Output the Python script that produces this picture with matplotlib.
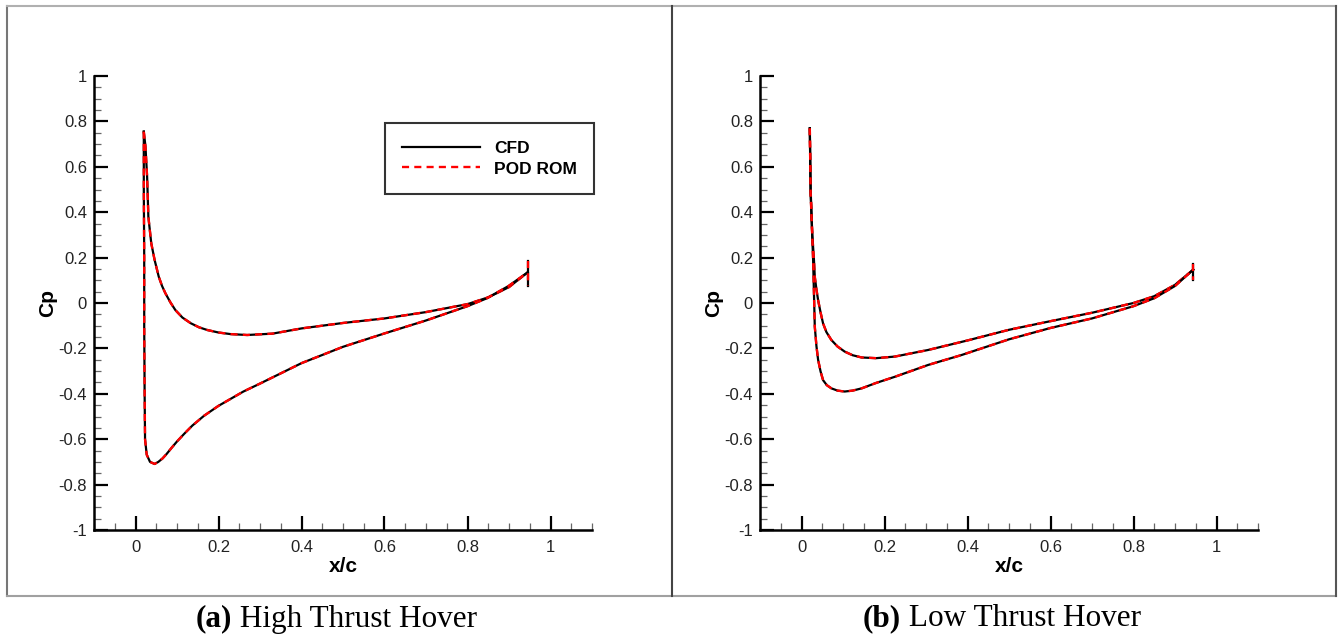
import matplotlib.pyplot as plt
from matplotlib.lines import Line2D
from matplotlib.ticker import MultipleLocator

# ---- High thrust hover: Cp along upper / lower branches (LE -> TE) ----
a_upper_x = [0.020, 0.024, 0.028, 0.031, 0.038, 0.046, 0.056, 0.064, 0.072, 0.084, 0.096,
             0.113, 0.133, 0.153, 0.173, 0.2, 0.229, 0.269, 0.33, 0.4, 0.5, 0.6, 0.7, 0.8,
             0.85, 0.9, 0.945]
a_upper_cp = [0.755, 0.69, 0.556, 0.38, 0.263, 0.19, 0.116, 0.075, 0.043, 0.003, -0.031,
              -0.064, -0.089, -0.107, -0.119, -0.13, -0.137, -0.141, -0.135, -0.112, -0.088,
              -0.068, -0.04, -0.005, 0.025, 0.07, 0.135]
a_lower_x = [0.020, 0.020, 0.021, 0.021, 0.022, 0.023, 0.027, 0.035, 0.046, 0.055, 0.065,
             0.075, 0.087, 0.1, 0.118, 0.137, 0.165, 0.2, 0.26, 0.3, 0.4, 0.5, 0.6, 0.7, 0.8,
             0.847, 0.899, 0.945]
a_lower_cp = [0.755, 0.5, 0.2, -0.1, -0.4, -0.6, -0.668, -0.70, -0.709, -0.70, -0.685,
              -0.665, -0.638, -0.61, -0.575, -0.54, -0.497, -0.453, -0.39, -0.355, -0.265,
              -0.193, -0.134, -0.077, -0.014, 0.021, 0.075, 0.135]
a_te_x = [0.945, 0.945]
a_te_cp = [0.185, 0.075]

# ---- Low thrust hover ----
b_upper_x = [0.020, 0.022, 0.026, 0.030, 0.032, 0.036, 0.040, 0.046, 0.052, 0.060, 0.072,
             0.087, 0.104, 0.123, 0.145, 0.18, 0.225, 0.305, 0.4, 0.5, 0.6, 0.7, 0.8, 0.85,
             0.9, 0.944]
b_upper_cp = [0.77, 0.5, 0.3, 0.19, 0.116, 0.06, 0.013, -0.042, -0.09, -0.128, -0.163,
              -0.192, -0.214, -0.23, -0.24, -0.243, -0.236, -0.207, -0.165, -0.118, -0.08,
              -0.043, 0.0, 0.03, 0.08, 0.147]
b_lower_x = [0.020, 0.022, 0.028, 0.032, 0.036, 0.040, 0.046, 0.052, 0.061, 0.072, 0.087,
             0.104, 0.123, 0.145, 0.18, 0.225, 0.305, 0.386, 0.5, 0.6, 0.7, 0.8, 0.85, 0.9,
             0.944]
b_lower_cp = [0.77, 0.483, 0.19, -0.104, -0.19, -0.25, -0.302, -0.34, -0.362, -0.376,
              -0.386, -0.39, -0.386, -0.376, -0.352, -0.325, -0.273, -0.229, -0.16, -0.11,
              -0.068, -0.014, 0.021, 0.075, 0.147]
b_te_x = [0.944, 0.944]
b_te_cp = [0.174, 0.102]

x_ticks = [0, 0.2, 0.4, 0.6, 0.8, 1]
x_ticklabels = ['0', '0.2', '0.4', '0.6', '0.8', '1']
y_ticks = [-1, -0.8, -0.6, -0.4, -0.2, 0, 0.2, 0.4, 0.6, 0.8, 1]
y_ticklabels = ['-1', '-0.8', '-0.6', '-0.4', '-0.2', '0', '0.2', '0.4', '0.6', '0.8', '1']
captions = [("(a)", " High Thrust Hover"), ("(b)", " Low Thrust Hover")]

plt.rcParams['font.family'] = ['Liberation Sans', 'DejaVu Sans']

fig = plt.figure(figsize=(13.38, 6.37), dpi=100)

W, H = 1338, 637


def fx(px):
    return px / W


def fy(py):
    return 1 - py / H


# panel frames
frame_lines = [
    ((7, 7), (6, 596), '#777777'),
    ((7, 1336), (6, 6), '#b0b0b0'),
    ((7, 1336), (596, 596), '#a0a0a0'),
    ((672, 672), (6, 596), '#444444'),
    ((1336, 1336), (6, 596), '#555555'),
]
for xs, ys, c in frame_lines:
    fig.add_artist(Line2D([fx(xs[0]), fx(xs[1])], [fy(ys[0]), fy(ys[1])],
                          transform=fig.transFigure, color=c, lw=1.5))

panels = [
    (94, [(a_upper_x, a_upper_cp), (a_lower_x, a_lower_cp), (a_te_x, a_te_cp)], True, 336),
    (760, [(b_upper_x, b_upper_cp), (b_lower_x, b_lower_cp), (b_te_x, b_te_cp)], False, 1002),
]

renderer = fig.canvas.get_renderer()

for i, (left_px, series, show_legend, cap_x) in enumerate(panels):
    ax = fig.add_axes([fx(left_px), fy(530), 498 / W, 454 / H])
    for j, (xs, cps) in enumerate(series):
        ax.plot(xs, cps, color='black', lw=1.6, solid_joinstyle='round',
                label='CFD' if j == 0 else None)
        ax.plot(xs, cps, color='red', lw=1.7, ls=(0, (3, 2.2)),
                label='POD ROM' if j == 0 else None)

    ax.set_xlim(-0.1, 1.1)
    ax.set_ylim(-1, 1)
    ax.xaxis.set_minor_locator(MultipleLocator(0.05))
    ax.yaxis.set_minor_locator(MultipleLocator(0.05))
    ax.set_xticks(x_ticks)
    ax.set_xticklabels(x_ticklabels)
    ax.set_yticks(y_ticks)
    ax.set_yticklabels(y_ticklabels)
    ax.spines['top'].set_visible(False)
    ax.spines['right'].set_visible(False)
    ax.spines['left'].set_linewidth(1.8)
    ax.spines['bottom'].set_linewidth(1.8)
    ax.tick_params(which='major', direction='in', length=10, width=1.6, labelsize=12,
                   colors='black', labelcolor='#222222')
    ax.tick_params(which='minor', direction='in', length=5, width=0.9, color='#666666')
    ax.tick_params(axis='x', which='major', pad=7)
    ax.tick_params(axis='y', which='major', pad=5)
    ax.set_xlabel('x/c', fontsize=15, fontweight='bold', labelpad=2)
    ax.set_ylabel('Cp', fontsize=15, fontweight='bold', labelpad=1)

    if show_legend:
        leg = ax.legend(loc='center', bbox_to_anchor=(0.794, 0.818),
                        frameon=True, fancybox=False, edgecolor='black',
                        fontsize=12.5, handlelength=4.5, borderpad=1.0, labelspacing=0.32,
                        handletextpad=0.8)
        leg.get_frame().set_linewidth(1.5)
        for t in leg.get_texts():
            t.set_fontweight('bold')

    # caption: bold tag + regular text, centred together
    bold, rest = captions[i]
    tb = fig.text(0, fy(619), bold, ha='left', va='center',
                  fontsize=22.5, family='Liberation Serif', fontweight='bold')
    tr = fig.text(0, fy(619), rest, ha='left', va='center',
                  fontsize=22.5, family='Liberation Serif')
    wb = tb.get_window_extent(renderer).width
    wr = tr.get_window_extent(renderer).width
    start = cap_x - (wb + wr) / 2
    tb.set_x(fx(start))
    tr.set_x(fx(start + wb))

fig.savefig('out.png', dpi=100)
